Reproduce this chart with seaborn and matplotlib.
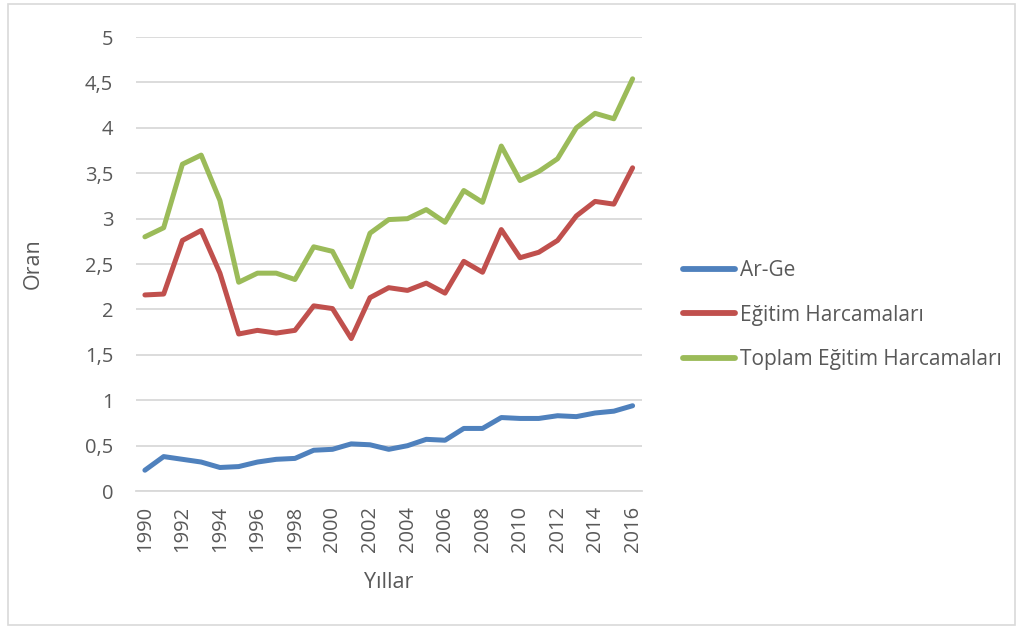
import matplotlib
matplotlib.use("Agg")
import matplotlib.pyplot as plt
import matplotlib.ticker as ticker
import pandas as pd
import seaborn as sns
from matplotlib.patches import Rectangle

sns.set_style("white")
plt.rcParams['font.family'] = ['Open Sans', 'DejaVu Sans']

years = list(range(1990, 2017))
arge = [0.23, 0.38, 0.35, 0.32, 0.26, 0.27, 0.32, 0.35, 0.36, 0.45, 0.46, 0.52, 0.51, 0.46,
        0.50, 0.57, 0.56, 0.69, 0.69, 0.81, 0.80, 0.80, 0.83, 0.82, 0.86, 0.88, 0.94]
egitim = [2.16, 2.17, 2.76, 2.87, 2.40, 1.73, 1.77, 1.74, 1.77, 2.04, 2.01, 1.68, 2.13, 2.24,
          2.21, 2.29, 2.18, 2.53, 2.41, 2.88, 2.57, 2.63, 2.76, 3.03, 3.19, 3.16, 3.56]
toplam = [2.80, 2.90, 3.60, 3.70, 3.20, 2.30, 2.40, 2.40, 2.33, 2.69, 2.64, 2.25, 2.84, 2.99,
          3.00, 3.10, 2.96, 3.31, 3.18, 3.80, 3.42, 3.52, 3.66, 4.00, 4.16, 4.10, 4.54]
series_names = ["Ar-Ge", "Eğitim Harcamaları", "Toplam Eğitim Harcamaları"]
colors = ["#4F81BD", "#C0504D", "#9BBB59"]

df = pd.DataFrame({"Yıl": years * 3,
                   "Oran": arge + egitim + toplam,
                   "Seri": [series_names[0]] * len(years) + [series_names[1]] * len(years)
                           + [series_names[2]] * len(years)})

TEXT = "#595959"

fig = plt.figure(figsize=(10.19, 6.28), dpi=100)
fig.patches.append(Rectangle((0.008, 0.005), 0.988, 0.988, transform=fig.transFigure,
                             fill=False, edgecolor="#D9D9D9", linewidth=1.2))
ax = fig.add_axes([0.133, 0.218, 0.497, 0.723])

sns.lineplot(data=df, x="Yıl", y="Oran", hue="Seri", palette=colors, linewidth=3.6,
             ax=ax, legend=True)
for line in ax.lines:
    line.set_solid_capstyle("round")
    line.set_solid_joinstyle("round")

ax.set_xlim(1989.5, 2016.5)
ax.set_ylim(0, 5)
ax.set_yticks([0, 0.5, 1, 1.5, 2, 2.5, 3, 3.5, 4, 4.5, 5])
ax.yaxis.set_major_formatter(ticker.FuncFormatter(lambda v, p: f"{v:g}".replace(".", ",")))
ax.set_xticks(years[::2])
ax.set_xticklabels([str(y) for y in years[::2]], rotation=90)
ax.tick_params(axis="both", length=0, labelsize=14.5, labelcolor=TEXT)
ax.tick_params(axis="y", pad=16)
ax.tick_params(axis="x", pad=11)
ax.yaxis.grid(True, color="#D9D9D9", linewidth=1.3)
ax.xaxis.grid(False)
ax.set_axisbelow(True)
for s in ["top", "right", "left"]:
    ax.spines[s].set_visible(False)
ax.spines["bottom"].set_color("#D9D9D9")
ax.spines["bottom"].set_linewidth(1.3)
ax.set_xlabel("Yıllar", fontsize=15.5, color=TEXT, labelpad=14)
ax.set_ylabel("Oran", fontsize=15.5, color=TEXT, labelpad=30)

leg = ax.legend(loc="center left", bbox_to_anchor=(0.670, 0.498),
                bbox_transform=fig.transFigure, frameon=False, borderpad=0,
                borderaxespad=0, fontsize=15, labelcolor=TEXT, handlelength=2.5,
                handletextpad=0.25, labelspacing=1.12)
for h in leg.get_lines():
    h.set_linewidth(4.2)

fig.savefig("out.png", dpi=100)
